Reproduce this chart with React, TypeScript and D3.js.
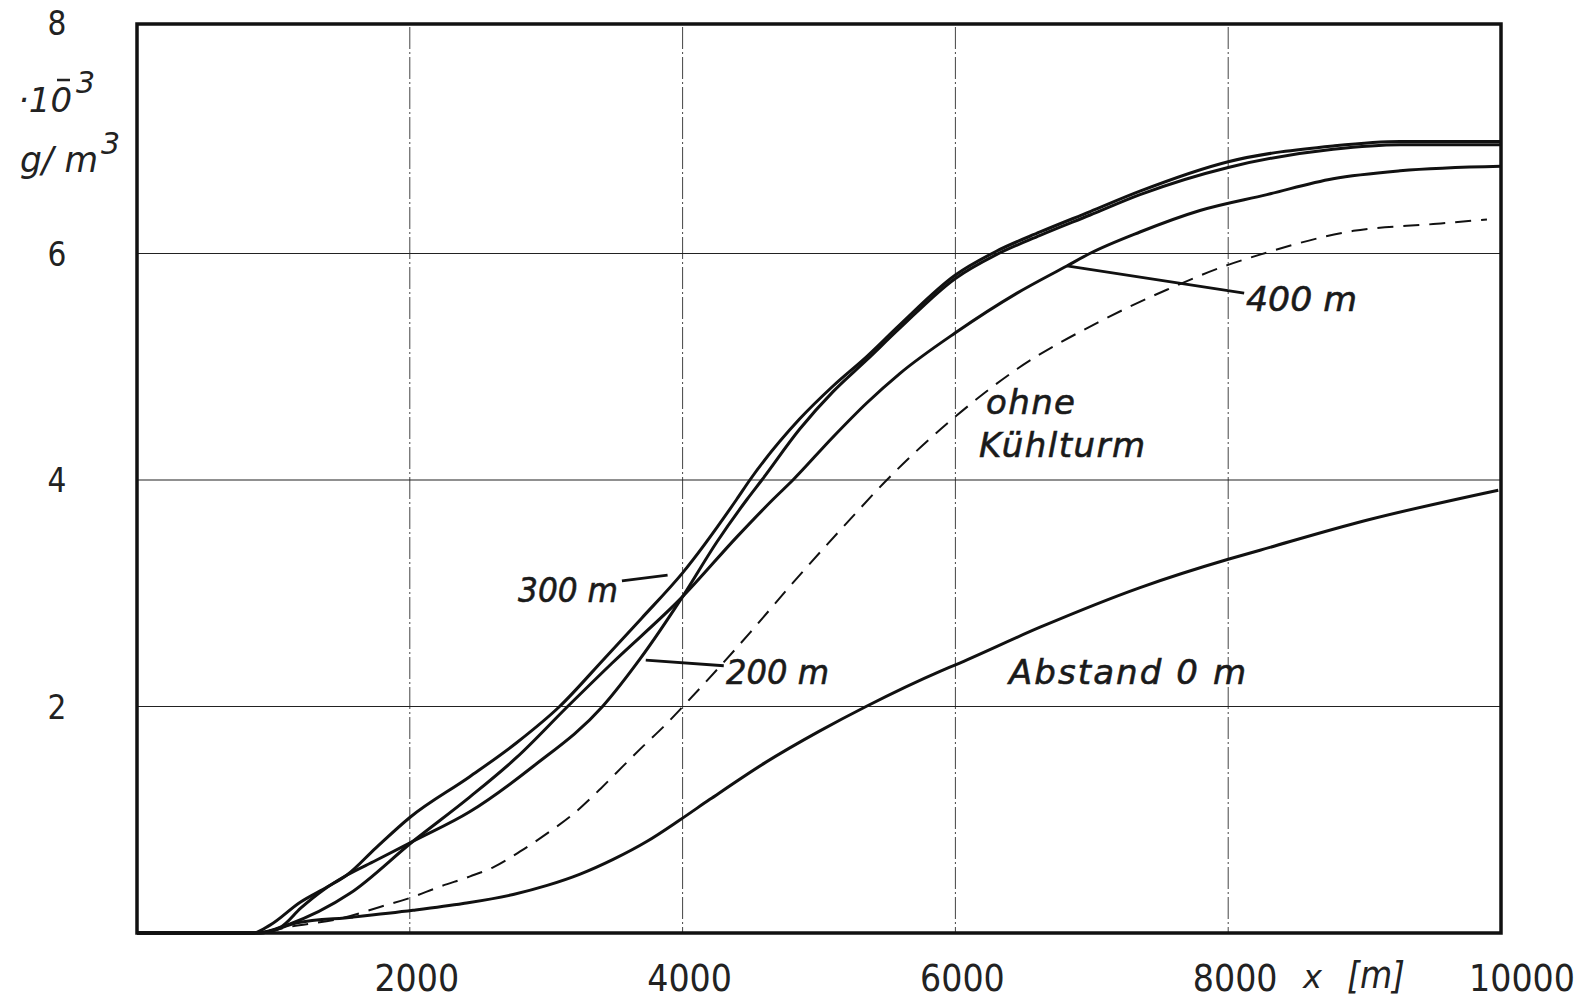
import * as d3 from 'd3'

// concentration along x for different distances (g/m3 * 1e-3)
const dist300: [number, number][] = [
  [0, 0], [850, 0], [975, 0.07], [1194, 0.27], [1400, 0.41], [1537, 0.51], [1750, 0.75],
  [2000, 1.02], [2439, 1.38], [2783, 1.68], [3098, 2.0], [3424, 2.42], [3700, 2.78],
  [4000, 3.18], [4397, 3.83], [4493, 4.0], [4859, 4.54], [5103, 4.83], [5350, 5.09],
  [5592, 5.37], [6000, 5.81], [6300, 6.02], [6621, 6.19], [6988, 6.37], [7353, 6.55],
  [8000, 6.81], [8769, 6.95], [9260, 6.99], [10000, 6.99],
]
const dist200: [number, number][] = [
  [0, 0], [850, 0], [1048, 0.05], [1200, 0.22], [1366, 0.38], [1537, 0.51], [1750, 0.64],
  [2024, 0.81], [2439, 1.07], [2903, 1.47], [3413, 2.0], [3688, 2.42], [4000, 2.97],
  [4250, 3.45], [4473, 3.83], [4581, 4.0], [4859, 4.45], [5103, 4.78], [5350, 5.06],
  [5592, 5.34], [6000, 5.78], [6300, 5.99], [6621, 6.16], [6988, 6.34], [7353, 6.52],
  [8000, 6.76], [8769, 6.92], [9260, 6.96], [10000, 6.96],
]
const dist400: [number, number][] = [
  [0, 0], [900, 0], [1100, 0.07], [1562, 0.35], [2024, 0.81], [2439, 1.2], [2783, 1.55],
  [3157, 2.0], [3480, 2.38], [4000, 2.97], [4400, 3.5], [4664, 3.83], [4809, 4.0],
  [5103, 4.38], [5350, 4.68], [5592, 4.94], [6000, 5.3], [6452, 5.65], [6817, 5.89],
  [6985, 6.0], [7353, 6.19], [7793, 6.38], [8284, 6.52], [8769, 6.66], [9260, 6.73],
  [10000, 6.77],
]
const ohneKuehlturm: [number, number][] = [
  [0, 0], [900, 0], [1100, 0.05], [1500, 0.13], [1781, 0.23], [2002, 0.31], [2222, 0.41],
  [2442, 0.5], [2611, 0.58], [2809, 0.72], [3007, 0.88], [3198, 1.05], [3395, 1.27],
  [3519, 1.42], [3711, 1.65], [3859, 1.82], [4018, 2.02], [4493, 2.65], [4800, 3.08],
  [5226, 3.65], [5497, 4.0], [6000, 4.56], [6452, 4.98], [7060, 5.4], [7550, 5.68],
  [8000, 5.9], [8233, 5.99], [8918, 6.2], [9503, 6.26], [9897, 6.3],
]
const dist0: [number, number][] = [
  [0, 0], [900, 0], [1172, 0.09], [1583, 0.14], [2024, 0.2], [2391, 0.26], [2758, 0.34],
  [3007, 0.42], [3249, 0.52], [3491, 0.65], [3740, 0.81], [3982, 1.0], [4200, 1.18],
  [4600, 1.5], [5000, 1.78], [5345, 2.0], [5887, 2.31], [6005, 2.37], [6621, 2.7],
  [7354, 3.05], [8000, 3.3], [8233, 3.38], [9000, 3.64], [9980, 3.91],
]

const xTicks = [2000, 4000, 6000, 8000, 10000]
const yTicks = [2, 4, 6, 8]
const xGrid = [2000, 4000, 6000, 8000]
const yGrid = [2, 4, 6]

const W = 1582
const H = 1002

export default function App() {
  const x = d3.scaleLinear().domain([0, 10000]).range([137, 1501])
  const y = d3.scaleLinear().domain([0, 8]).range([933, 27])
  const line = d3
    .line<[number, number]>()
    .x(d => x(d[0]))
    .y(d => y(d[1]))
    .curve(d3.curveMonotoneX)

  const solid = [dist300, dist200, dist400, dist0]
  const tickFont = "'DejaVu Sans Condensed', 'DejaVu Sans', sans-serif"
  const noteFont = "'DejaVu Sans', sans-serif"

  return (
    <svg width={W} height={H} style={{ position: 'absolute', left: 0, top: 0, background: '#fff' }}>
      {/* grid */}
      {xGrid.map(v => (
        <line key={'gx' + v} x1={x(v)} x2={x(v)} y1={y(8)} y2={y(0)}
          stroke="#444" strokeWidth={1} strokeDasharray="22 3 2 3" />
      ))}
      {yGrid.map(v => (
        <line key={'gy' + v} x1={x(0)} x2={x(10000)} y1={y(v)} y2={y(v)}
          stroke="#222" strokeWidth={1.2} />
      ))}

      {/* curves */}
      {solid.map((s, i) => (
        <path key={'c' + i} d={line(s) || ''} fill="none" stroke="#111" strokeWidth={3} />
      ))}
      <path d={line(ohneKuehlturm) || ''} fill="none" stroke="#111" strokeWidth={2}
        strokeDasharray="16 10" />

      {/* frame */}
      <rect x={x(0)} y={y(8) - 3} width={x(10000) - x(0)} height={y(0) - y(8) + 3}
        fill="none" stroke="#111" strokeWidth={3.5} />

      {/* tick labels */}
      {xTicks.map(v => (
        <text key={'tx' + v} x={x(v) + (v === 10000 ? 21 : 7)} y={991} textAnchor="middle"
          fontFamily={tickFont} fontSize={37} fill="#222">{v}</text>
      ))}
      {yTicks.map(v => (
        <text key={'ty' + v} x={57} y={y(v) + (v === 8 ? 8 : 12)} textAnchor="middle"
          fontFamily={tickFont} fontSize={33} fill="#222">{v}</text>
      ))}

      {/* axis units */}
      <text x={18} y={112} fontFamily={noteFont} fontStyle="italic" fontSize={34} fill="#222">
        ·10
      </text>
      <line x1={57} x2={70} y1={80} y2={80} stroke="#222" strokeWidth={2.5} />
      <text x={76} y={93} fontFamily={noteFont} fontStyle="italic" fontSize={30} fill="#222">3</text>
      <text x={20} y={172} fontFamily={noteFont} fontStyle="italic" fontSize={36} fill="#222"
        textLength={78} lengthAdjust="spacingAndGlyphs">g/ m</text>
      <text x={101} y={154} fontFamily={noteFont} fontStyle="italic" fontSize={30} fill="#222">3</text>

      <text x={1303} y={988} fontFamily={noteFont} fontStyle="italic" fontSize={32} fill="#222">x</text>
      <text x={1347} y={988} fontFamily={noteFont} fontStyle="italic" fontSize={38} fill="#222"
        textLength={58} lengthAdjust="spacingAndGlyphs">[m]</text>

      {/* annotations */}
      <g fontFamily={noteFont} fontStyle="italic" fontSize={34} fill="#1a1a1a"
        stroke="#1a1a1a" strokeWidth={0.6}>
        <text x={518} y={602} textLength={100} lengthAdjust="spacingAndGlyphs">300 m</text>
        <text x={726} y={684} textLength={103} lengthAdjust="spacingAndGlyphs">200 m</text>
        <text x={1246} y={311} textLength={111} lengthAdjust="spacingAndGlyphs">400 m</text>
        <text x={986} y={414} textLength={89} lengthAdjust="spacing">ohne</text>
        <text x={979} y={457} textLength={166} lengthAdjust="spacing">Kühlturm</text>
        <text x={1009} y={684} textLength={237} lengthAdjust="spacing">Abstand 0 m</text>
      </g>

      {/* leader lines */}
      <g stroke="#111" strokeWidth={2.8}>
        <line x1={x(3555)} y1={y(3.11)} x2={x(3890)} y2={y(3.16)} />
        <line x1={x(4302)} y1={y(2.36)} x2={x(3730)} y2={y(2.41)} />
        <line x1={x(8117)} y1={y(5.65)} x2={x(6817)} y2={y(5.89)} />
      </g>
    </svg>
  )
}
